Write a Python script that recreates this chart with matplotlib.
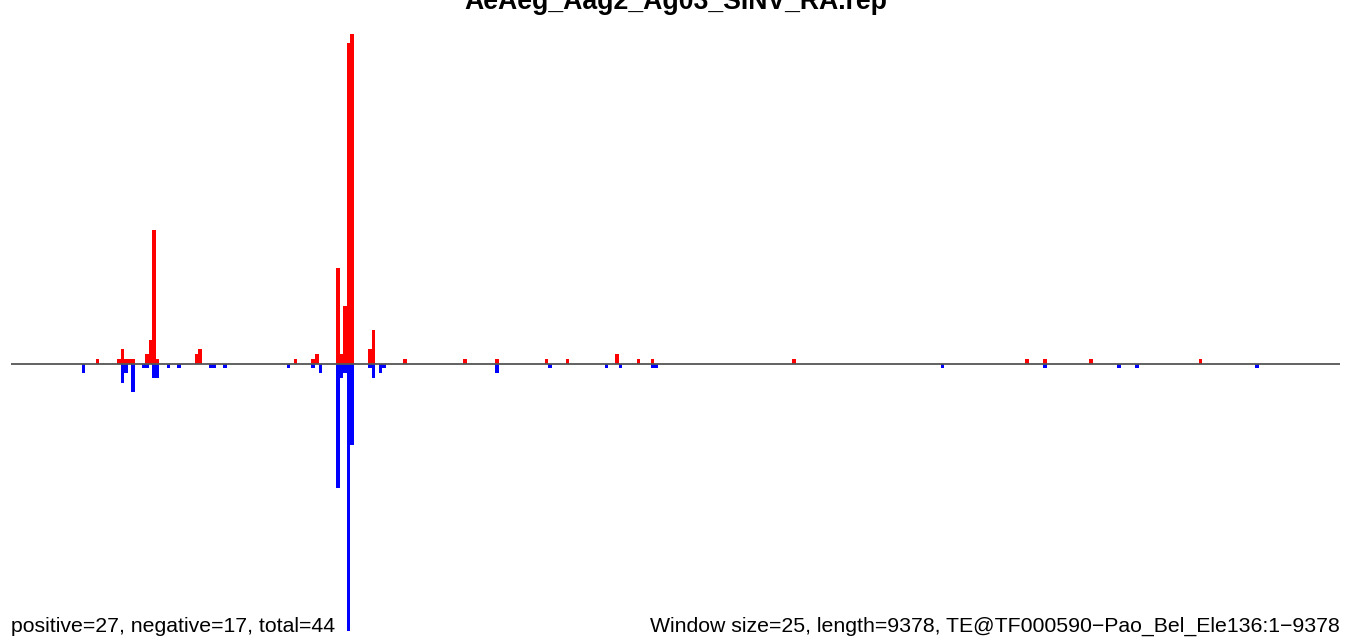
import numpy as np
import matplotlib
matplotlib.use("Agg")
import matplotlib.pyplot as plt

# window indices (25 bp windows) and abundance on each strand
pos_windows = [24, 30, 31, 32, 33, 34, 38, 39, 40, 41, 52, 53, 80, 85, 86,
               92, 93, 94, 95, 96, 101, 102, 111, 128, 137, 151, 157, 171,
               177, 181, 221, 287, 292, 305, 336]
pos_values = [1, 1, 3, 1, 1, 1, 2, 5, 28, 1, 2, 3, 1, 1, 2,
              20, 2, 12, 67, 69, 3, 7, 1, 1, 1, 1, 1, 2,
              1, 1, 1, 1, 1, 1, 1]

neg_windows = [20, 31, 32, 34, 37, 38, 40, 41, 44, 47, 56, 57, 60, 78, 85,
               87, 92, 93, 94, 95, 96, 101, 102, 104, 105, 137, 152, 168,
               172, 181, 182, 263, 292, 313, 318, 352]
neg_values = [2, 4, 2, 6, 1, 1, 3, 3, 1, 1, 1, 1, 1, 1, 1,
              2, 26, 3, 2, 56, 17, 1, 3, 2, 1, 2, 1, 1,
              1, 1, 1, 1, 1, 1, 1, 1]

title = "AeAeg_Aag2_Ag03_SINV_RA.rep"
left_note = "positive=27, negative=17, total=44"
right_note = "Window size=25, length=9378, TE@TF000590\u2212Pao_Bel_Ele136:1\u22129378"

window_size = 25
seq_length = 9378
n_windows = int(np.ceil(seq_length / window_size))

plt.rcParams['font.family'] = ['Liberation Sans', 'DejaVu Sans']

W, H = 1352, 639
fig = plt.figure(figsize=(W / 100, H / 100), dpi=100)
ax = fig.add_axes([11 / W, 0, 1329 / W, 1])

ax.bar(pos_windows, pos_values, width=1, align='edge', color='red', linewidth=0)
ax.bar(neg_windows, -np.array(neg_values), width=1, align='edge', color='blue',
       linewidth=0)
ax.axhline(0, color='#555555', lw=1.3, zorder=3)

ax.set_xlim(0, n_windows)
ax.set_ylim(-57.6, 76.05)
ax.axis('off')

# title sits partly above the top edge, as in the original
fig.text(0.5, 1 - 9 / H, title, ha='center', va='baseline',
         fontsize=19.2, fontweight='bold')
fig.text(11 / W, 1 - 632 / H, left_note, ha='left', va='baseline', fontsize=15.3)
fig.text(1340 / W, 1 - 632 / H, right_note, ha='right', va='baseline',
         fontsize=15.3)

fig.savefig("out.png", dpi=100)
